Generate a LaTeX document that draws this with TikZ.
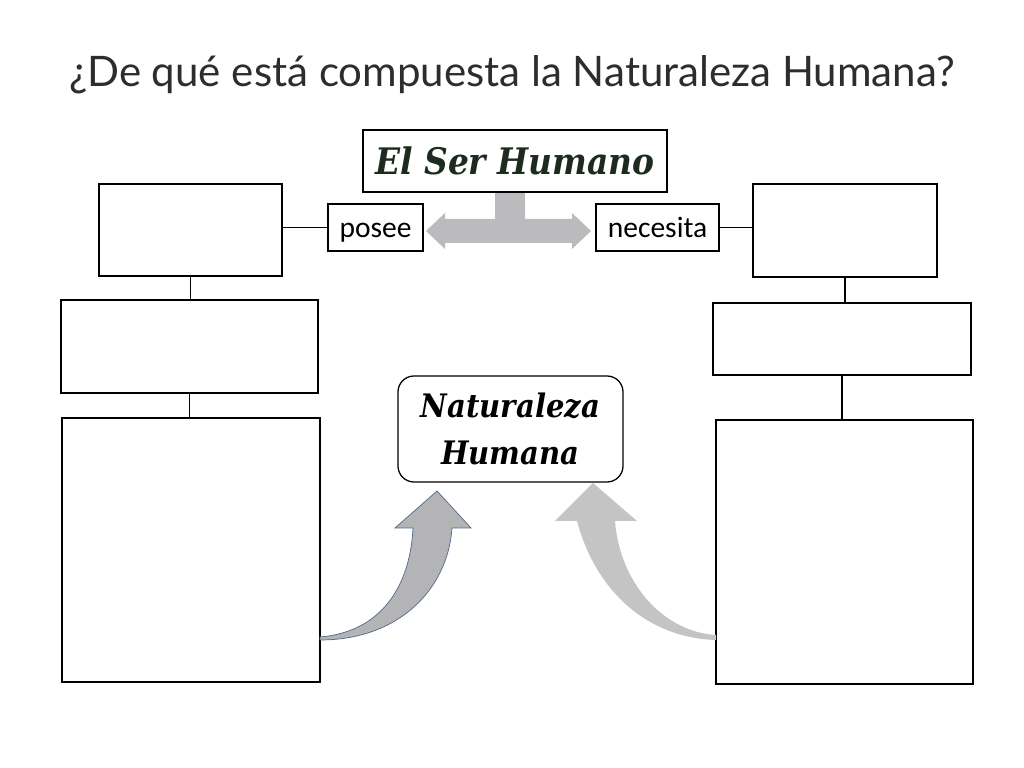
\documentclass[tikz,border=0pt]{standalone}
\usepackage{fontspec}
\setmainfont{Carlito}
\newfontfamily\titlefont{Lato}
\newfontfamily\brushfont{DejaVu Serif Condensed}
\usepackage{tikz}
\usepackage{xcolor}
\definecolor{titlegray}{RGB}{45,45,45}
\definecolor{serverde}{RGB}{28,43,30}
\definecolor{flechagris}{RGB}{180,180,182}
\definecolor{flechaborde}{RGB}{80,105,140}
\definecolor{flechaclara}{RGB}{196,196,196}
\tikzset{caja/.style={draw,line width=0.9pt,inner sep=0pt},
  etiqueta/.style={draw,line width=0.9pt,inner sep=0pt,text height=0.62cm,text depth=0.1cm,font=\fontsize{21}{25}\selectfont},
  enlace/.style={line width=0.9pt}}

\begin{document}
\begin{tikzpicture}
\useasboundingbox (0,0) rectangle (25.6,19.2);
\node[font=\titlefont\fontsize{29.9}{34}\selectfont,text=titlegray] (titulo) at (12.8,17.325) {¿De qué está compuesta la Naturaleza Humana?};
\fill[flechagris!90] (12.375,14.4) -- (12.375,13.725) -- (11.125,13.725) -- (11.125,13.875) -- (10.65,13.425) -- (11.125,12.975) -- (11.125,13.125) -- (14.3,13.125) -- (14.3,12.975) -- (14.775,13.425) -- (14.3,13.875) -- (14.3,13.725) -- (13.125,13.725) -- (13.125,14.4) -- cycle;
\node[caja,line width=1.2pt,minimum width=7.6cm,minimum height=1.55cm,font=\brushfont\bfseries\itshape\fontsize{26}{30}\selectfont,text=serverde] (ser) at (12.875,15.175) {El Ser Humano};
\node[etiqueta,minimum width=2.375cm,minimum height=1.175cm] (posee) at (9.3875,13.5125) {posee};
\node[etiqueta,minimum width=3.075cm,minimum height=1.175cm] (necesita) at (16.4375,13.5125) {necesita};
\node[caja,minimum width=4.575cm,minimum height=2.3cm] (izqA) at (4.7625,13.45) {};
\node[caja,minimum width=6.425cm,minimum height=2.325cm] (izqB) at (4.7375,10.5375) {};
\node[caja,minimum width=6.45cm,minimum height=6.6cm] (izqC) at (4.775,5.45) {};
\node[caja,minimum width=4.6cm,minimum height=2.325cm] (derA) at (21.125,13.4375) {};
\node[caja,minimum width=6.45cm,minimum height=1.8cm] (derB) at (21.05,10.725) {};
\node[caja,minimum width=6.425cm,minimum height=6.6cm] (derC) at (21.1125,5.4) {};
\node[caja,rounded corners=0.4cm,minimum width=5.625cm,minimum height=2.65cm,align=center,font=\brushfont\bfseries\itshape\fontsize{23}{34}\selectfont] (nat) at (12.7625,8.475) {Naturaleza\\Humana};
\draw[enlace] (posee.west) -- (posee.west -| izqA.east);
\draw[enlace] (necesita.east) -- (necesita.east -| derA.west);
\draw[enlace] (izqA.south) -- (izqA.south |- izqB.north);
\draw[enlace] (izqB.south) -- (izqB.south |- izqC.north);
\draw[enlace] (derA.south) -- (derA.south |- derB.north);
\draw[enlace] (derB.south) -- (derB.south |- derC.north);
\filldraw[fill=flechagris,draw=flechaborde,line width=0.5pt] (8.0,3.275) .. controls (9.5,3.4) and (10.25,4.5) .. (10.325,6.0) -- (9.875,6.0) -- (10.925,6.925) -- (11.775,6.0) -- (11.3,6.0) .. controls (11.2,4.5) and (10.0,3.2) .. (8.0,3.2) -- cycle;
\fill[flechaclara] (17.9,3.2) .. controls (16.2,3.25) and (14.9,4.4) .. (14.425,6.175) -- (13.875,6.175) -- (14.825,7.125) -- (15.925,6.175) -- (15.375,6.175) .. controls (15.5,4.6) and (16.6,3.4) .. (17.9,3.325) -- cycle;
\end{tikzpicture}
\end{document}
